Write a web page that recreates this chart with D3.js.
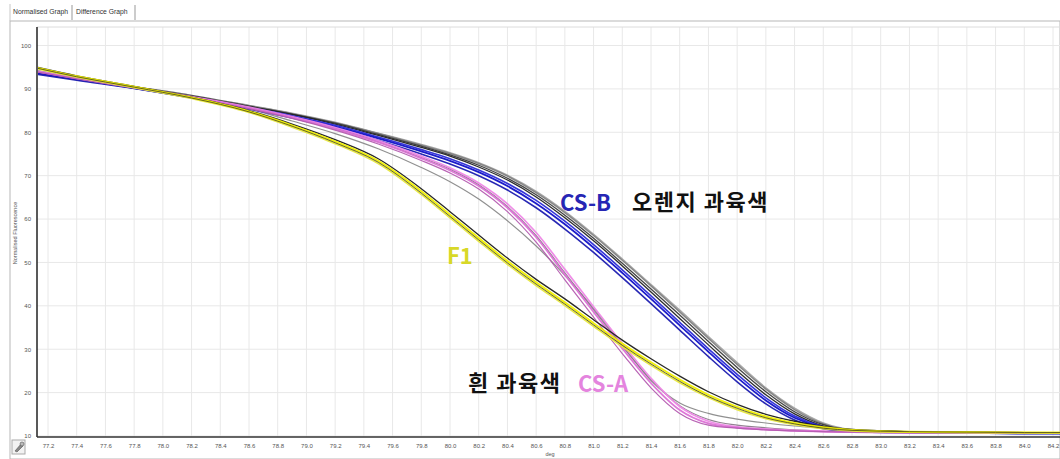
<!DOCTYPE html>
<html>
<head>
<meta charset="utf-8">
<script src="https://cdn.jsdelivr.net/npm/d3@7"></script>
<style>
  html, body { margin: 0; padding: 0; background: #fff; }
  svg { display: block; }
</style>
</head>
<body>
<svg id="chart" width="1060" height="459"></svg>
<script>
// Melt-curve temperatures (deg) shared by every trace
const temps = [77.12, 77.4, 77.8, 78.2, 78.6, 78.9, 79.2, 79.5, 79.8, 80.0, 80.2, 80.4, 80.6, 80.8, 81.0, 81.2, 81.4, 81.6, 81.8, 82.0, 82.2, 82.4, 82.6, 82.8, 83.2, 83.6, 84.0, 84.3];

// CS-B (orange flesh) replicates
const csbBlue1  = [93.6, 92.2, 90.2, 88.0, 85.6, 83.6, 81.3, 78.6, 75.6, 73.4, 70.8, 67.6, 63.6, 58.8, 53.4, 47.6, 41.6, 35.5, 29.4, 23.5, 18.2, 14.2, 11.9, 11.1, 10.8, 10.7, 10.6, 10.6];
const csbBlue2  = [93.4, 92.0, 90.1, 87.9, 85.4, 83.3, 80.9, 78.1, 75.0, 72.7, 70.0, 66.7, 62.6, 57.7, 52.3, 46.5, 40.5, 34.4, 28.3, 22.5, 17.4, 13.7, 11.7, 11.0, 10.8, 10.7, 10.6, 10.6];
const csbBlue3  = [93.7, 92.3, 90.3, 88.1, 85.7, 83.8, 81.6, 78.9, 76.0, 73.9, 71.3, 68.2, 64.3, 59.5, 54.1, 48.3, 42.3, 36.2, 30.1, 24.2, 18.8, 14.6, 12.1, 11.2, 10.9, 10.7, 10.6, 10.6];
const csbBlack1 = [93.8, 92.4, 90.4, 88.3, 85.9, 84.1, 81.9, 79.3, 76.5, 74.5, 72.0, 69.0, 65.1, 60.3, 55.0, 49.2, 43.2, 37.1, 31.0, 25.0, 19.5, 15.1, 12.3, 11.2, 10.9, 10.8, 10.7, 10.7];
const csbBlack2 = [93.9, 92.5, 90.4, 88.4, 86.0, 84.2, 82.1, 79.5, 76.8, 74.8, 72.4, 69.4, 65.6, 60.9, 55.6, 49.8, 43.9, 37.9, 31.8, 25.8, 20.2, 15.6, 12.6, 11.3, 11.0, 10.8, 10.7, 10.7];
const csbGray1  = [94.0, 92.5, 90.5, 88.5, 86.1, 84.3, 82.2, 79.7, 77.0, 75.1, 72.8, 69.9, 66.1, 61.5, 56.2, 50.5, 44.6, 38.6, 32.5, 26.5, 20.8, 16.1, 12.8, 11.4, 11.0, 10.8, 10.7, 10.7];
const csbGray2  = [94.1, 92.6, 90.5, 88.5, 86.2, 84.4, 82.3, 79.8, 77.2, 75.3, 73.0, 70.1, 66.4, 61.8, 56.5, 50.8, 44.9, 39.0, 32.9, 26.9, 21.1, 16.4, 13.0, 11.5, 11.0, 10.8, 10.7, 10.7];

// CS-A (white flesh) replicates
const csaPink1  = [94.0, 92.4, 90.3, 88.1, 85.6, 83.4, 80.8, 77.7, 74.0, 71.2, 67.6, 62.6, 55.8, 47.2, 38.6, 30.2, 22.2, 16.0, 12.9, 11.9, 11.5, 11.2, 11.0, 10.9, 10.8, 10.8, 10.7, 10.7];
const csaPink2  = [94.1, 92.5, 90.4, 88.2, 85.8, 83.6, 81.1, 78.1, 74.5, 71.8, 68.3, 63.5, 56.9, 48.4, 39.8, 31.3, 23.3, 16.8, 13.4, 12.1, 11.6, 11.3, 11.1, 10.9, 10.8, 10.8, 10.7, 10.7];
const csaPink3  = [93.9, 92.3, 90.2, 88.0, 85.4, 83.2, 80.5, 77.3, 73.5, 70.6, 66.9, 61.7, 54.7, 46.0, 37.4, 29.0, 21.1, 15.2, 12.5, 11.8, 11.4, 11.2, 11.0, 10.9, 10.8, 10.8, 10.7, 10.7];
const csaGray1  = [94.0, 92.4, 90.3, 88.1, 85.6, 83.4, 80.8, 77.8, 74.2, 71.5, 67.9, 62.9, 56.2, 47.6, 39.1, 30.7, 23.0, 17.0, 13.8, 12.5, 11.9, 11.4, 11.1, 10.9, 10.8, 10.8, 10.7, 10.7];
const midGray   = [94.3, 92.6, 90.4, 88.1, 85.4, 82.6, 79.7, 76.2, 71.9, 68.6, 64.6, 59.6, 53.8, 47.0, 39.4, 31.0, 22.8, 17.6, 15.2, 13.9, 13.0, 12.3, 11.8, 11.3, 11.0, 10.9, 10.8, 10.8];

// F1 replicates
const f1Yellow1 = [94.9, 92.9, 90.5, 88.0, 84.8, 81.6, 77.9, 73.4, 66.4, 61.0, 55.6, 50.3, 45.4, 40.8, 36.0, 31.3, 27.0, 23.0, 19.5, 16.7, 14.5, 13.0, 12.0, 11.4, 11.0, 10.9, 10.8, 10.8];
const f1Yellow2 = [94.7, 92.7, 90.3, 87.8, 84.6, 81.2, 77.4, 72.8, 65.7, 60.3, 54.9, 49.6, 44.7, 40.1, 35.3, 30.6, 26.3, 22.3, 18.9, 16.1, 14.0, 12.6, 11.7, 11.2, 10.9, 10.8, 10.8, 10.7];
const f1Black1  = [95.0, 93.0, 90.6, 88.1, 85.0, 81.9, 78.3, 73.9, 67.0, 61.7, 56.3, 51.0, 46.1, 41.6, 36.8, 32.1, 27.8, 23.8, 20.2, 17.3, 15.0, 13.4, 12.2, 11.5, 11.0, 10.9, 10.8, 10.8];
const f1Black2  = [94.8, 92.8, 90.4, 87.9, 84.7, 81.4, 77.6, 73.1, 66.0, 60.6, 55.2, 49.9, 45.0, 40.4, 35.6, 30.9, 26.6, 22.6, 19.1, 16.4, 14.2, 12.8, 11.8, 11.3, 11.0, 10.9, 10.8, 10.8];

const xTicks = [77.2, 77.4, 77.6, 77.8, 78.0, 78.2, 78.4, 78.6, 78.8, 79.0, 79.2, 79.4, 79.6, 79.8, 80.0, 80.2, 80.4, 80.6, 80.8, 81.0, 81.2, 81.4, 81.6, 81.8, 82.0, 82.2, 82.4, 82.6, 82.8, 83.0, 83.2, 83.4, 83.6, 83.8, 84.0, 84.2];
const yTicks = [10, 20, 30, 40, 50, 60, 70, 80, 90, 100];

// drawing order: grays underneath, coloured traces on top
const series = [
  { values: midGray,   color: "#8a8a8a", width: 1.2 },
  { values: csbGray2,  color: "#a4a4a4", width: 1.5 },
  { values: csbGray1,  color: "#808080", width: 1.5 },
  { values: csbBlack2, color: "#3a3a3a", width: 1.3 },
  { values: csbBlack1, color: "#222222", width: 1.3 },
  { values: csbBlue3,  color: "#2a2ad8", width: 1.6 },
  { values: csbBlue1,  color: "#1010c8", width: 1.8 },
  { values: csbBlue2,  color: "#1c1cb0", width: 1.6 },
  { values: csaGray1,  color: "#8c7a8c", width: 1.2 },
  { values: csaPink2,  color: "#ee88e6", width: 1.8 },
  { values: csaPink1,  color: "#dc72d6", width: 1.8 },
  { values: csaPink3,  color: "#b45cb0", width: 1.2 },
  { values: f1Black1,  color: "#1e1e1e", width: 1.3 },
  { values: f1Yellow2, color: "#e6e640", width: 1.8 },
  { values: f1Yellow1, color: "#f0f000", width: 2.0 },
  { values: f1Black2,  color: "#4a4a20", width: 0.9 }
];

const svg = d3.select("#chart");
const W = 1060, H = 459;
const plot = { left: 37, right: 1060, top: 27, bottom: 437 };

const x = d3.scaleLinear().domain([77.2, 84.2]).range([48, 1053]);
const y = d3.scaleLinear().domain([10, 100]).range([436, 45.5]);

// tab strip and panel frame
const uiFont = "Arial, 'Liberation Sans', sans-serif";
svg.append("rect").attr("x", 10).attr("y", 21).attr("width", W - 10).attr("height", H - 21)
  .attr("fill", "#fff").attr("stroke", "#b8b8b8");
svg.append("line").attr("x1", 10).attr("x2", 10).attr("y1", 4).attr("y2", 21).attr("stroke", "#c8c8c8");
svg.append("text").attr("x", 13).attr("y", 14).attr("font-family", uiFont).attr("font-size", 6.8)
  .attr("fill", "#333").text("Normalised Graph");
svg.append("line").attr("x1", 72).attr("x2", 72).attr("y1", 5).attr("y2", 20).attr("stroke", "#999");
svg.append("text").attr("x", 76).attr("y", 14).attr("font-family", uiFont).attr("font-size", 6.8)
  .attr("fill", "#333").text("Difference Graph");
svg.append("line").attr("x1", 135).attr("x2", 135).attr("y1", 5).attr("y2", 20).attr("stroke", "#999");

// grid
const grid = svg.append("g");
grid.selectAll("line.vx").data(xTicks).join("line")
  .attr("x1", d => x(d)).attr("x2", d => x(d)).attr("y1", plot.top).attr("y2", plot.bottom)
  .attr("stroke", "#e8e8e8").attr("stroke-width", 1);
grid.selectAll("line.hy").data(yTicks).join("line")
  .attr("x1", plot.left).attr("x2", plot.right).attr("y1", d => y(d)).attr("y2", d => y(d))
  .attr("stroke", "#e8e8e8").attr("stroke-width", 1);
svg.append("line").attr("x1", plot.left).attr("x2", plot.right).attr("y1", plot.top).attr("y2", plot.top)
  .attr("stroke", "#dcdcdc");

// curves
svg.append("clipPath").attr("id", "clip").append("rect")
  .attr("x", plot.left + 1).attr("y", plot.top).attr("width", plot.right - plot.left).attr("height", plot.bottom - plot.top - 1);
const line = d3.line().x((d, i) => x(temps[i])).y(d => y(d)).curve(d3.curveMonotoneX);
svg.append("g").attr("clip-path", "url(#clip)")
  .selectAll("path").data(series).join("path")
  .attr("d", s => line(s.values))
  .attr("fill", "none").attr("stroke", s => s.color).attr("stroke-width", s => s.width)
  .attr("stroke-linejoin", "round").attr("stroke-opacity", 0.95);

// axes
const xAxis = d3.axisBottom(x).tickValues(xTicks).tickSize(0).tickPadding(7).tickFormat(d3.format(".1f"));
const gx = svg.append("g").attr("transform", `translate(0,${plot.bottom})`).call(xAxis);
gx.select(".domain").remove();
gx.selectAll("text").attr("font-family", uiFont).attr("font-size", 6).attr("fill", "#555");

const yAxis = d3.axisLeft(y).tickValues(yTicks).tickSize(0).tickPadding(6).tickFormat(d3.format("d"));
const gy = svg.append("g").attr("transform", `translate(${plot.left},0)`).call(yAxis);
gy.select(".domain").remove();
gy.selectAll("text").attr("font-family", uiFont).attr("font-size", 6).attr("fill", "#555");

svg.append("line").attr("x1", plot.left).attr("x2", plot.left).attr("y1", plot.top).attr("y2", plot.bottom)
  .attr("stroke", "#222").attr("stroke-width", 1.5);
svg.append("line").attr("x1", plot.left).attr("x2", plot.right).attr("y1", plot.bottom).attr("y2", plot.bottom)
  .attr("stroke", "#333").attr("stroke-width", 1.5);

svg.append("text").attr("x", 550).attr("y", 456).attr("text-anchor", "middle")
  .attr("font-family", uiFont).attr("font-size", 5.5).attr("fill", "#555").text("deg");
svg.append("text").attr("transform", "translate(17,233) rotate(-90)").attr("text-anchor", "middle")
  .attr("font-family", uiFont).attr("font-size", 5.5).attr("fill", "#555").text("Normalised Fluorescence");

// small tool icon at lower left
const icon = svg.append("g").attr("transform", "translate(12,440)");
icon.append("rect").attr("width", 13).attr("height", 14).attr("fill", "#f2f2f2").attr("stroke", "#aaa");
icon.append("path").attr("d", "M3,11 L9,4 L11,6 L5,12 Z").attr("fill", "#888").attr("stroke", "#555").attr("stroke-width", 0.6);
icon.append("circle").attr("cx", 10).attr("cy", 4).attr("r", 2).attr("fill", "#bbb").attr("stroke", "#555").attr("stroke-width", 0.6);

// group annotations
const kfont = "'Noto Sans CJK KR', 'Noto Sans', sans-serif";
const notes = [
  { text: "CS-B", x: 560, y: 211, color: "#2626b4", size: 22, spacing: 0 },
  { text: "오렌지 과육색", x: 632, y: 210, color: "#111", size: 22, spacing: 1.5 },
  { text: "F1", x: 447, y: 264, color: "#d8d828", size: 22, spacing: 0 },
  { text: "흰 과육색", x: 468, y: 391, color: "#111", size: 22, spacing: 1.5 },
  { text: "CS-A", x: 578, y: 392, color: "#e484de", size: 22, spacing: 0 }
];
svg.selectAll("text.note").data(notes).join("text")
  .attr("class", "note")
  .attr("x", d => d.x).attr("y", d => d.y)
  .attr("font-family", kfont).attr("font-weight", 700).attr("font-size", d => d.size)
  .attr("letter-spacing", d => d.spacing)
  .attr("fill", d => d.color).text(d => d.text);
</script>
</body>
</html>
